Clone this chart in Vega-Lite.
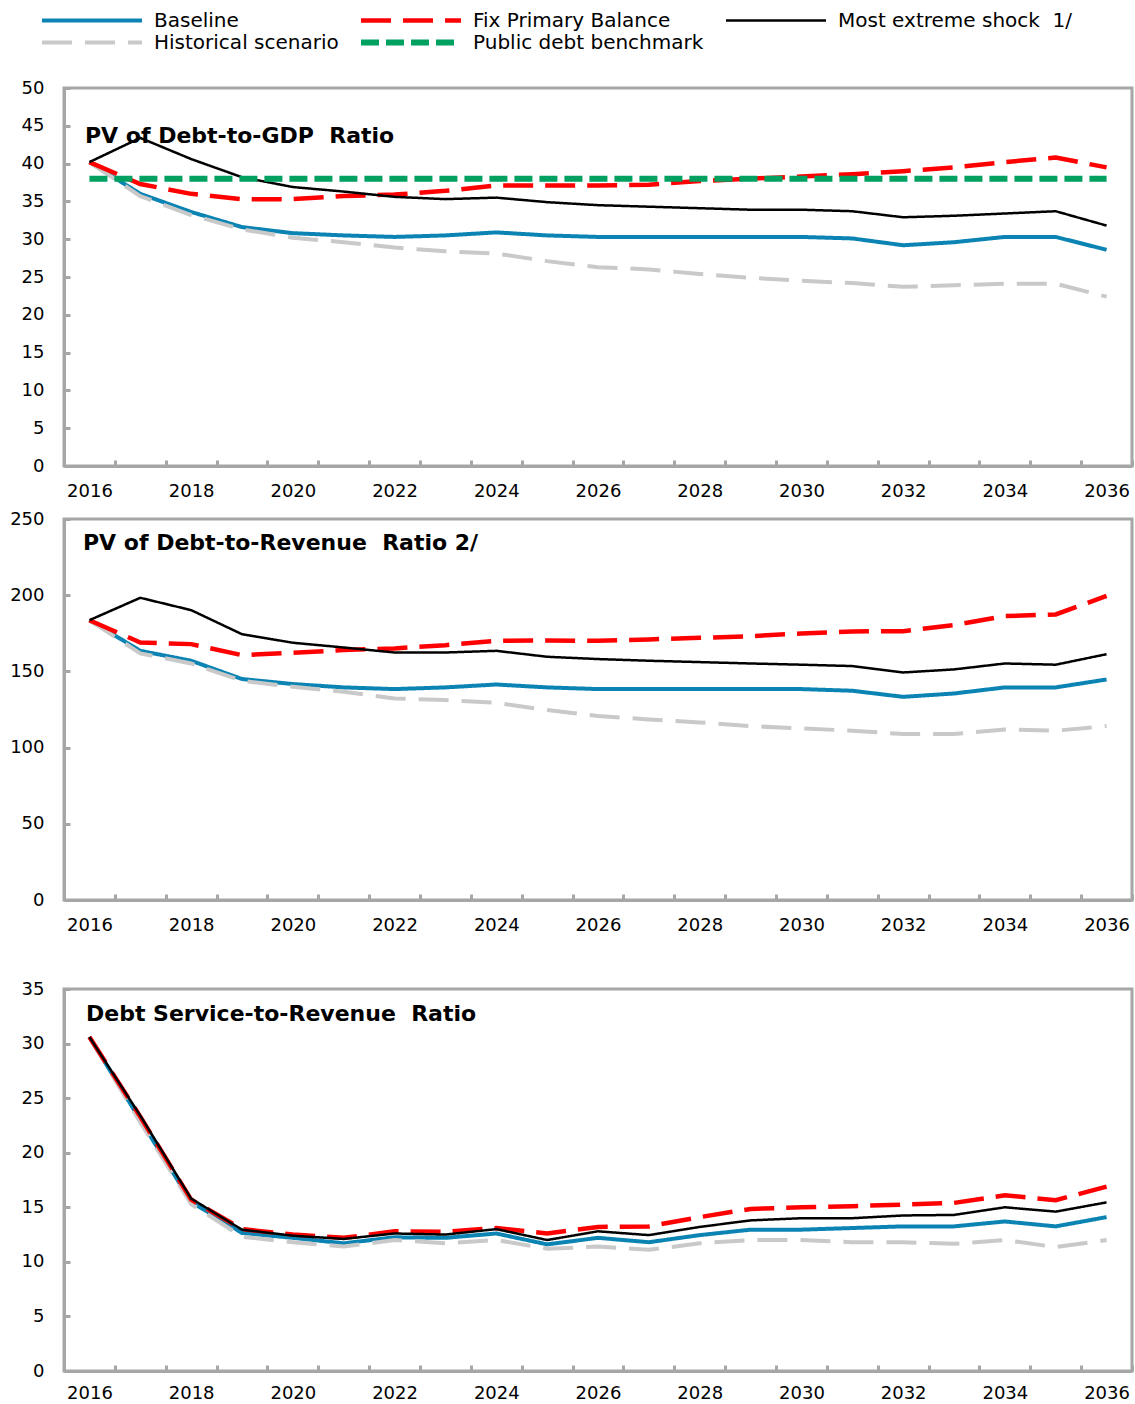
{
  "$schema": "https://vega.github.io/schema/vega-lite/v6.json",
  "background": "white",
  "padding": {"left": 8, "right": 3, "top": 10, "bottom": 2},
  "config": {
    "font": "DejaVu Sans",
    "view": {"stroke": "#a6a6a6", "strokeWidth": 3},
    "axis": {"grid": false, "title": null, "domainColor": "#a6a6a6", "domainWidth": 3, "tickColor": "#a6a6a6", "tickWidth": 3, "tickSize": -6, "labelFont": "DejaVu Sans", "labelFontSize": 18, "labelColor": "#000000"},
    "axisX": {"labelPadding": 22, "labelAngle": 0, "tickBand": "extent", "labelExpr": "datum.value % 2 == 0 ? datum.label : ''"},
    "axisY": {"labelPadding": 26},
    "title": {"font": "DejaVu Sans", "fontSize": 22, "fontWeight": "bold", "anchor": "start", "frame": "group", "color": "#000000", "baseline": "alphabetic"},
    "legend": {"direction": "horizontal", "columns": 3, "title": null, "padding": 0, "symbolType": "stroke", "symbolSize": 10000, "symbolStrokeWidth": 5, "labelFont": "DejaVu Sans", "labelFontSize": 20, "labelColor": "#000000", "labelOffset": 9, "columnPadding": 19, "rowPadding": 1, "clipHeight": 21, "labelLimit": 400},
    "line": {"strokeCap": "butt"}
  },
  "datasets": {
    "gdp": [
      {"year": 2016, "Baseline": 40.2, "Historical scenario": 40.2, "Fix Primary Balance": 40.2, "Most extreme shock  1/": 40.2, "Public debt benchmark": 38},
      {"year": 2017, "Baseline": 36.0, "Historical scenario": 35.7, "Fix Primary Balance": 37.3, "Most extreme shock  1/": 43.4, "Public debt benchmark": 38},
      {"year": 2018, "Baseline": 33.6, "Historical scenario": 33.2, "Fix Primary Balance": 36.0, "Most extreme shock  1/": 40.6, "Public debt benchmark": 38},
      {"year": 2019, "Baseline": 31.6, "Historical scenario": 31.3, "Fix Primary Balance": 35.3, "Most extreme shock  1/": 38.2, "Public debt benchmark": 38},
      {"year": 2020, "Baseline": 30.8, "Historical scenario": 30.2, "Fix Primary Balance": 35.3, "Most extreme shock  1/": 36.9, "Public debt benchmark": 38},
      {"year": 2021, "Baseline": 30.5, "Historical scenario": 29.6, "Fix Primary Balance": 35.7, "Most extreme shock  1/": 36.3, "Public debt benchmark": 38},
      {"year": 2022, "Baseline": 30.3, "Historical scenario": 28.9, "Fix Primary Balance": 35.9, "Most extreme shock  1/": 35.6, "Public debt benchmark": 38},
      {"year": 2023, "Baseline": 30.5, "Historical scenario": 28.4, "Fix Primary Balance": 36.4, "Most extreme shock  1/": 35.3, "Public debt benchmark": 38},
      {"year": 2024, "Baseline": 30.9, "Historical scenario": 28.1, "Fix Primary Balance": 37.1, "Most extreme shock  1/": 35.5, "Public debt benchmark": 38},
      {"year": 2025, "Baseline": 30.5, "Historical scenario": 27.1, "Fix Primary Balance": 37.1, "Most extreme shock  1/": 34.9, "Public debt benchmark": 38},
      {"year": 2026, "Baseline": 30.3, "Historical scenario": 26.3, "Fix Primary Balance": 37.1, "Most extreme shock  1/": 34.5, "Public debt benchmark": 38},
      {"year": 2027, "Baseline": 30.3, "Historical scenario": 26.0, "Fix Primary Balance": 37.2, "Most extreme shock  1/": 34.3, "Public debt benchmark": 38},
      {"year": 2028, "Baseline": 30.3, "Historical scenario": 25.4, "Fix Primary Balance": 37.7, "Most extreme shock  1/": 34.1, "Public debt benchmark": 38},
      {"year": 2029, "Baseline": 30.3, "Historical scenario": 24.9, "Fix Primary Balance": 38.0, "Most extreme shock  1/": 33.9, "Public debt benchmark": 38},
      {"year": 2030, "Baseline": 30.3, "Historical scenario": 24.5, "Fix Primary Balance": 38.3, "Most extreme shock  1/": 33.9, "Public debt benchmark": 38},
      {"year": 2031, "Baseline": 30.1, "Historical scenario": 24.2, "Fix Primary Balance": 38.6, "Most extreme shock  1/": 33.7, "Public debt benchmark": 38},
      {"year": 2032, "Baseline": 29.2, "Historical scenario": 23.7, "Fix Primary Balance": 39.0, "Most extreme shock  1/": 32.9, "Public debt benchmark": 38},
      {"year": 2033, "Baseline": 29.6, "Historical scenario": 23.9, "Fix Primary Balance": 39.5, "Most extreme shock  1/": 33.1, "Public debt benchmark": 38},
      {"year": 2034, "Baseline": 30.3, "Historical scenario": 24.1, "Fix Primary Balance": 40.2, "Most extreme shock  1/": 33.4, "Public debt benchmark": 38},
      {"year": 2035, "Baseline": 30.3, "Historical scenario": 24.1, "Fix Primary Balance": 40.8, "Most extreme shock  1/": 33.7, "Public debt benchmark": 38},
      {"year": 2036, "Baseline": 28.6, "Historical scenario": 22.4, "Fix Primary Balance": 39.5, "Most extreme shock  1/": 31.8, "Public debt benchmark": 38}
    ],
    "rev": [
      {"year": 2016, "Baseline": 183.6, "Historical scenario": 183.6, "Fix Primary Balance": 183.6, "Most extreme shock  1/": 183.6},
      {"year": 2017, "Baseline": 163.5, "Historical scenario": 161.8, "Fix Primary Balance": 169.0, "Most extreme shock  1/": 198.3},
      {"year": 2018, "Baseline": 157.0, "Historical scenario": 155.2, "Fix Primary Balance": 167.9, "Most extreme shock  1/": 190.2},
      {"year": 2019, "Baseline": 145.0, "Historical scenario": 143.8, "Fix Primary Balance": 160.7, "Most extreme shock  1/": 174.4},
      {"year": 2020, "Baseline": 141.7, "Historical scenario": 139.9, "Fix Primary Balance": 162.2, "Most extreme shock  1/": 168.8},
      {"year": 2021, "Baseline": 139.5, "Historical scenario": 136.6, "Fix Primary Balance": 164.0, "Most extreme shock  1/": 165.7},
      {"year": 2022, "Baseline": 138.4, "Historical scenario": 132.2, "Fix Primary Balance": 165.1, "Most extreme shock  1/": 162.4},
      {"year": 2023, "Baseline": 139.5, "Historical scenario": 131.2, "Fix Primary Balance": 167.2, "Most extreme shock  1/": 162.4},
      {"year": 2024, "Baseline": 141.4, "Historical scenario": 129.4, "Fix Primary Balance": 170.1, "Most extreme shock  1/": 163.5},
      {"year": 2025, "Baseline": 139.5, "Historical scenario": 124.6, "Fix Primary Balance": 170.3, "Most extreme shock  1/": 159.6},
      {"year": 2026, "Baseline": 138.4, "Historical scenario": 120.7, "Fix Primary Balance": 170.1, "Most extreme shock  1/": 158.1},
      {"year": 2027, "Baseline": 138.4, "Historical scenario": 118.5, "Fix Primary Balance": 171.0, "Most extreme shock  1/": 157.0},
      {"year": 2028, "Baseline": 138.4, "Historical scenario": 116.5, "Fix Primary Balance": 172.0, "Most extreme shock  1/": 156.1},
      {"year": 2029, "Baseline": 138.4, "Historical scenario": 114.1, "Fix Primary Balance": 173.1, "Most extreme shock  1/": 155.2},
      {"year": 2030, "Baseline": 138.4, "Historical scenario": 112.6, "Fix Primary Balance": 174.9, "Most extreme shock  1/": 154.4},
      {"year": 2031, "Baseline": 137.3, "Historical scenario": 111.1, "Fix Primary Balance": 176.2, "Most extreme shock  1/": 153.5},
      {"year": 2032, "Baseline": 133.3, "Historical scenario": 108.9, "Fix Primary Balance": 176.4, "Most extreme shock  1/": 149.3},
      {"year": 2033, "Baseline": 135.5, "Historical scenario": 108.9, "Fix Primary Balance": 180.4, "Most extreme shock  1/": 151.3},
      {"year": 2034, "Baseline": 139.5, "Historical scenario": 111.9, "Fix Primary Balance": 186.3, "Most extreme shock  1/": 155.2},
      {"year": 2035, "Baseline": 139.5, "Historical scenario": 111.1, "Fix Primary Balance": 187.4, "Most extreme shock  1/": 154.4},
      {"year": 2036, "Baseline": 144.7, "Historical scenario": 114.1, "Fix Primary Balance": 199.5, "Most extreme shock  1/": 161.3}
    ],
    "svc": [
      {"year": 2016, "Baseline": 30.6, "Historical scenario": 30.6, "Fix Primary Balance": 30.6, "Most extreme shock  1/": 30.6},
      {"year": 2017, "Baseline": 23.0, "Historical scenario": 22.8, "Fix Primary Balance": 23.3, "Most extreme shock  1/": 23.4},
      {"year": 2018, "Baseline": 15.5, "Historical scenario": 15.3, "Fix Primary Balance": 15.7, "Most extreme shock  1/": 15.8},
      {"year": 2019, "Baseline": 12.65, "Historical scenario": 12.3, "Fix Primary Balance": 13.0, "Most extreme shock  1/": 12.95},
      {"year": 2020, "Baseline": 12.2, "Historical scenario": 11.8, "Fix Primary Balance": 12.5, "Most extreme shock  1/": 12.4},
      {"year": 2021, "Baseline": 11.7, "Historical scenario": 11.4, "Fix Primary Balance": 12.2, "Most extreme shock  1/": 12.1},
      {"year": 2022, "Baseline": 12.25, "Historical scenario": 12.0, "Fix Primary Balance": 12.8, "Most extreme shock  1/": 12.6},
      {"year": 2023, "Baseline": 12.2, "Historical scenario": 11.7, "Fix Primary Balance": 12.75, "Most extreme shock  1/": 12.5},
      {"year": 2024, "Baseline": 12.6, "Historical scenario": 12.0, "Fix Primary Balance": 13.1, "Most extreme shock  1/": 13.0},
      {"year": 2025, "Baseline": 11.6, "Historical scenario": 11.2, "Fix Primary Balance": 12.6, "Most extreme shock  1/": 12.0},
      {"year": 2026, "Baseline": 12.2, "Historical scenario": 11.4, "Fix Primary Balance": 13.2, "Most extreme shock  1/": 12.8},
      {"year": 2027, "Baseline": 11.8, "Historical scenario": 11.1, "Fix Primary Balance": 13.25, "Most extreme shock  1/": 12.45},
      {"year": 2028, "Baseline": 12.45, "Historical scenario": 11.7, "Fix Primary Balance": 14.1, "Most extreme shock  1/": 13.2},
      {"year": 2029, "Baseline": 12.95, "Historical scenario": 12.0, "Fix Primary Balance": 14.85, "Most extreme shock  1/": 13.8},
      {"year": 2030, "Baseline": 12.95, "Historical scenario": 12.0, "Fix Primary Balance": 15.0, "Most extreme shock  1/": 14.0},
      {"year": 2031, "Baseline": 13.1, "Historical scenario": 11.8, "Fix Primary Balance": 15.1, "Most extreme shock  1/": 14.0},
      {"year": 2032, "Baseline": 13.25, "Historical scenario": 11.8, "Fix Primary Balance": 15.25, "Most extreme shock  1/": 14.25},
      {"year": 2033, "Baseline": 13.25, "Historical scenario": 11.65, "Fix Primary Balance": 15.4, "Most extreme shock  1/": 14.3},
      {"year": 2034, "Baseline": 13.7, "Historical scenario": 12.0, "Fix Primary Balance": 16.1, "Most extreme shock  1/": 15.0},
      {"year": 2035, "Baseline": 13.25, "Historical scenario": 11.35, "Fix Primary Balance": 15.65, "Most extreme shock  1/": 14.6},
      {"year": 2036, "Baseline": 14.1, "Historical scenario": 12.0, "Fix Primary Balance": 16.9, "Most extreme shock  1/": 15.45}
    ]
  },
  "spacing": 42,
  "vconcat": [
    {
      "spacing": 6,
      "vconcat": [
        {
          "width": 1068,
          "height": 378,
          "title": {"text": "PV of Debt-to-GDP\u00a0 Ratio", "offset": -69, "dx": 21},
          "data": {"name": "gdp"},
          "transform": [{"fold": ["Baseline", "Historical scenario", "Fix Primary Balance", "Most extreme shock  1/", "Public debt benchmark"], "as": ["series", "v"]}],
          "mark": {"type": "line"},
          "encoding": {
            "x": {"field": "year", "type": "ordinal", "scale": {"type": "band", "paddingInner": 0, "paddingOuter": 0}},
            "y": {"field": "v", "type": "quantitative", "scale": {"domain": [0, 50], "nice": false}, "axis": {"values": [0, 5, 10, 15, 20, 25, 30, 35, 40, 45, 50]}},
            "color": {"field": "series", "type": "nominal", "scale": {"domain": ["Baseline", "Fix Primary Balance", "Most extreme shock  1/", "Historical scenario", "Public debt benchmark"], "range": ["#0b84b4", "#ff0000", "#000000", "#c9c9c9", "#00a060"]}, "legend": {"orient": "none", "legendX": -25, "legendY": -78, "labelExpr": "replace(datum.label, '  ', '\u00a0 ')", "encode": {"symbols": {"update": {"strokeWidth": {"value": 5}}}}}},
            "strokeDash": {"field": "series", "type": "nominal", "scale": {"domain": ["Baseline", "Fix Primary Balance", "Most extreme shock  1/", "Historical scenario", "Public debt benchmark"], "range": [[1, 0], [30, 12], [1, 0], [30, 13], [18, 7]]}, "legend": {"orient": "none", "legendX": -25, "legendY": -78, "labelExpr": "replace(datum.label, '  ', '\u00a0 ')", "encode": {"symbols": {"update": {"strokeWidth": {"value": 5}}}}}},
            "strokeWidth": {"field": "series", "type": "nominal", "scale": {"type": "ordinal", "domain": ["Baseline", "Fix Primary Balance", "Most extreme shock  1/", "Historical scenario", "Public debt benchmark"], "range": [4, 4.5, 2.5, 4, 6]}, "legend": null}
          }
        },
        {
          "width": 1068,
          "height": 381,
          "title": {"text": "PV of Debt-to-Revenue\u00a0 Ratio 2/", "offset": -45, "dx": 19},
          "data": {"name": "rev"},
          "transform": [{"fold": ["Baseline", "Historical scenario", "Fix Primary Balance", "Most extreme shock  1/"], "as": ["series", "v"]}],
          "mark": {"type": "line"},
          "encoding": {
            "x": {"field": "year", "type": "ordinal", "scale": {"type": "band", "paddingInner": 0, "paddingOuter": 0}},
            "y": {"field": "v", "type": "quantitative", "scale": {"domain": [0, 250], "nice": false}, "axis": {"values": [0, 50, 100, 150, 200, 250]}},
            "color": {"field": "series", "type": "nominal", "scale": {"domain": ["Baseline", "Fix Primary Balance", "Most extreme shock  1/", "Historical scenario", "Public debt benchmark"], "range": ["#0b84b4", "#ff0000", "#000000", "#c9c9c9", "#00a060"]}},
            "strokeDash": {"field": "series", "type": "nominal", "scale": {"domain": ["Baseline", "Fix Primary Balance", "Most extreme shock  1/", "Historical scenario", "Public debt benchmark"], "range": [[1, 0], [30, 12], [1, 0], [30, 13], [18, 7]]}},
            "strokeWidth": {"field": "series", "type": "nominal", "scale": {"type": "ordinal", "domain": ["Baseline", "Fix Primary Balance", "Most extreme shock  1/", "Historical scenario", "Public debt benchmark"], "range": [4, 4.5, 2.5, 4, 6]}, "legend": null}
          }
        }
      ]
    },
    {
      "width": 1068,
      "height": 382,
      "title": {"text": "Debt Service-to-Revenue\u00a0 Ratio", "offset": -46, "dx": 22},
      "data": {"name": "svc"},
      "transform": [{"fold": ["Baseline", "Historical scenario", "Fix Primary Balance", "Most extreme shock  1/"], "as": ["series", "v"]}],
      "mark": {"type": "line"},
      "encoding": {
        "x": {"field": "year", "type": "ordinal", "scale": {"type": "band", "paddingInner": 0, "paddingOuter": 0}, "axis": {"labelPadding": 19}},
        "y": {"field": "v", "type": "quantitative", "scale": {"domain": [0, 35], "nice": false}, "axis": {"values": [0, 5, 10, 15, 20, 25, 30, 35]}},
        "color": {"field": "series", "type": "nominal", "scale": {"domain": ["Baseline", "Fix Primary Balance", "Most extreme shock  1/", "Historical scenario", "Public debt benchmark"], "range": ["#0b84b4", "#ff0000", "#000000", "#c9c9c9", "#00a060"]}},
        "strokeDash": {"field": "series", "type": "nominal", "scale": {"domain": ["Baseline", "Fix Primary Balance", "Most extreme shock  1/", "Historical scenario", "Public debt benchmark"], "range": [[1, 0], [30, 12], [1, 0], [30, 13], [18, 7]]}},
        "strokeWidth": {"field": "series", "type": "nominal", "scale": {"type": "ordinal", "domain": ["Baseline", "Fix Primary Balance", "Most extreme shock  1/", "Historical scenario", "Public debt benchmark"], "range": [4, 4.5, 2.5, 4, 6]}, "legend": null}
      }
    }
  ]
}
